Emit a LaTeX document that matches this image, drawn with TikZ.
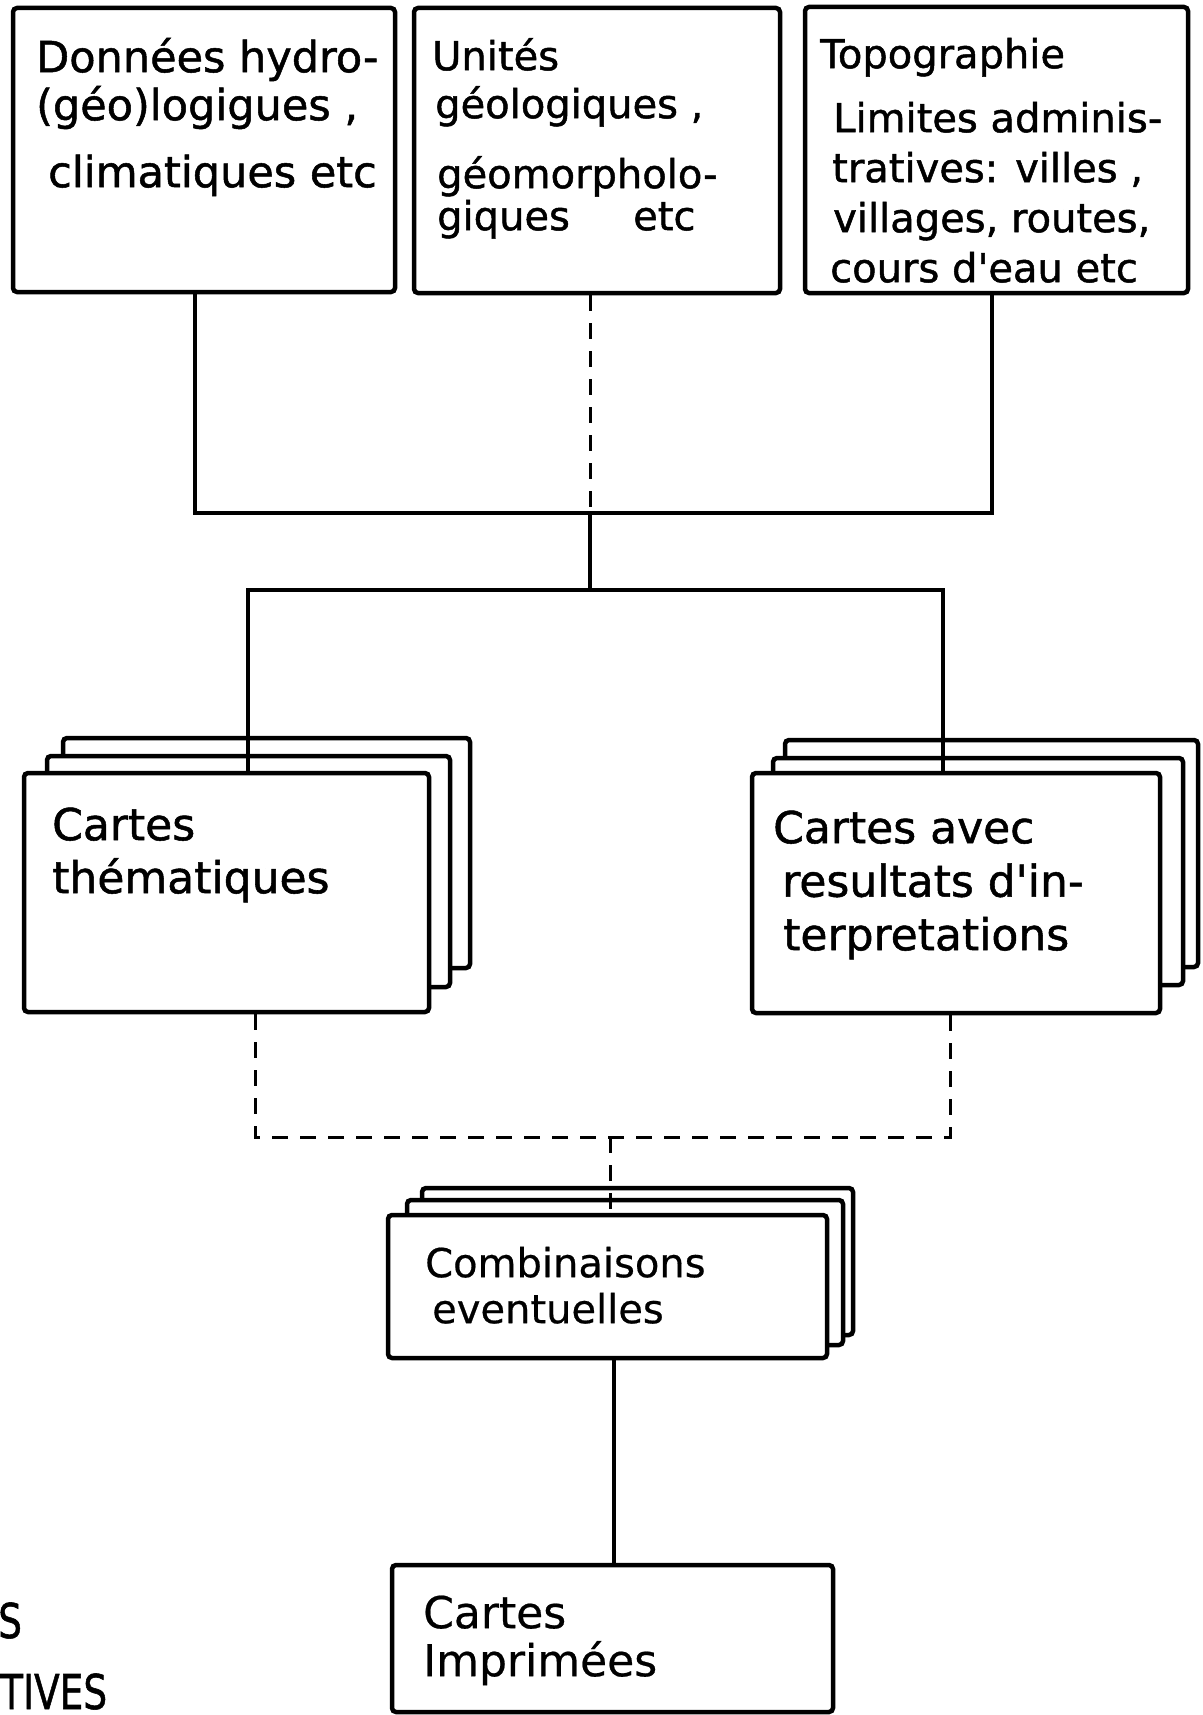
\documentclass[tikz,border=0pt]{standalone}
\usepackage{fontspec}
\newfontfamily\lett[FakeBold=1.2]{DejaVu Sans}
\newfontfamily\lettl[FakeBold=0.5]{DejaVu Sans}
\newcommand\lfont[2]{\lett\fontsize{#1}{#2}\selectfont\lineskiplimit=-500pt\relax}
\newcommand\llfont[2]{\lettl\fontsize{#1}{#2}\selectfont\lineskiplimit=-500pt\relax}
\begin{document}
\begin{tikzpicture}[x=1pt,y=-1pt,
  box/.style={draw, fill=white, line width=4.5pt, rounded corners=4pt, inner sep=0pt},
  conn/.style={line width=4pt},
  dconn/.style={line width=3pt, dash pattern=on 16pt off 12pt},
  txt/.style={anchor=north west, inner sep=0pt, align=left}]
\fill[white] (0,0) rectangle (1202,1715);
\useasboundingbox (0,0) rectangle (1202,1715);

% top row
\node[box, minimum width=382pt, minimum height=284pt] (d1) at (204,150) {};
\node[box, minimum width=366pt, minimum height=285pt] (d2) at (597,150.5) {};
\node[box, minimum width=383pt, minimum height=286pt] (d3) at (996.5,150) {};

% cartes thematiques stack
\node[box, minimum width=407pt, minimum height=230pt] (them3) at (266.5,853) {};
\node[box, minimum width=403pt, minimum height=231pt] (them2) at (248.5,871.5) {};
\node[box, minimum width=405pt, minimum height=239pt] (them) at (226.5,892.5) {};

% cartes avec resultats stack
\node[box, minimum width=413pt, minimum height=227pt] (res3) at (991.5,853.5) {};
\node[box, minimum width=410pt, minimum height=227pt] (res2) at (978,871.5) {};
\node[box, minimum width=408pt, minimum height=240pt] (res) at (956,893) {};

% combinaisons stack
\node[box, minimum width=431pt, minimum height=147pt] (comb3) at (637.5,1261.5) {};
\node[box, minimum width=436pt, minimum height=145pt] (comb2) at (625,1272.5) {};
\node[box, minimum width=439pt, minimum height=143pt] (comb) at (607.5,1286.5) {};

% cartes imprimees
\node[box, minimum width=441pt, minimum height=147pt] (imp) at (612.5,1638.5) {};

% junction coordinates
\coordinate (a1) at (195,513);
\coordinate (a2) at (590,513);
\coordinate (a3) at (992,513);
\coordinate (j2) at (590,590);
\coordinate (b1) at (248,590);
\coordinate (b2) at (943,590);
\coordinate (c1) at (255,1137);
\coordinate (c2) at (950,1137);
\coordinate (c3) at (610,1137);
\coordinate (e1) at (614,1460);

% connectors
\draw[conn] (d1.south -| a1) -- (a1) -- (a3) -- (d3.south -| a3);
\draw[dconn] (d2.south -| a2) -- (a2);
\draw[conn] (a2) -- (j2);
\draw[conn] (them.north -| b1) -- (b1) -- (b2) -- (res.north -| b2);
\draw[dconn] (them.south -| c1) -- (c1) -- (c2) -- (res.south -| c2);
\draw[dconn] (c3) -- (comb.north -| c3);
\draw[conn] (comb.south -| e1) -- (imp.north -| e1);

% texts
\node[txt, font=\lfont{43}{48}] (t1) at (36,22)
  {\rule{0pt}{50pt}Données hydro-\\(géo)logigues ,\\[19pt]\hspace*{12pt}climatiques etc};
\node[txt, font=\lfont{40}{42}] (t2) at (432,20)
  {\rule{0pt}{50pt}Unités\\[6pt]\hspace*{3pt}géologiques ,\\[28pt]\hspace*{5pt}géomorpholo-\\\hspace*{5pt}\makebox[196pt][l]{giques}etc};
\node[txt, font=\lfont{40}{50}] (t3) at (820,18)
  {\rule{0pt}{50pt}Topographie\\[14pt]\hspace*{13pt}Limites adminis-\\\hspace*{12pt}tratives: villes ,\\\hspace*{13pt}villages, routes,\\\hspace*{10pt}cours d'eau etc};
\node[txt, font=\lfont{44}{53}] (t4) at (52,790)
  {\rule{0pt}{50pt}Cartes\\thématiques};
\node[txt, font=\lfont{44}{53.5}] (t5) at (773,793)
  {\rule{0pt}{50pt}Cartes avec\\\hspace*{9pt}resultats d'in-\\\hspace*{10pt}terpretations};
\node[txt, font=\llfont{40}{46}] (t6) at (425,1227)
  {\rule{0pt}{50pt}Combinaisons\\\hspace*{7pt}eventuelles};
\node[txt, font=\llfont{44}{48}] (t7) at (423,1578)
  {\rule{0pt}{50pt}Cartes\\Imprimées};

% cut-off texts at left margin
\node[anchor=base west, inner sep=0pt, font=\lfont{48}{48}] (s1) at (-2,1638) {\scalebox{0.78}[1]{S}};
\node[anchor=base west, inner sep=0pt, font=\lfont{48}{48}] (s2) at (0,1709) {\scalebox{0.78}[1]{TIVES}};
\end{tikzpicture}
\end{document}
